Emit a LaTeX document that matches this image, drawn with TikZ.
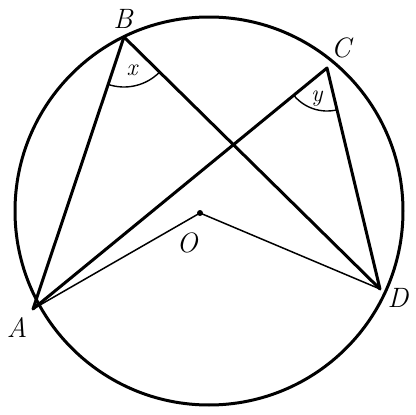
\documentclass[tikz,border=0pt]{standalone}
\usepackage{tikz}
\usetikzlibrary{angles,quotes}
\tikzset{
thick line/.style={line width=3pt,line cap=round,line join=round},
thin line/.style={line width=1.5pt},
punto/.style={font=\fontsize{28}{32}\selectfont\itshape},
segno/.style={line width=1.4pt,font=\fontsize{24}{26}\selectfont\itshape}}

\begin{document}
\begin{tikzpicture}[x=1pt,y=-1pt]
\useasboundingbox (0,0) rectangle (416,415);

\coordinate (Cen) at (209,211);
\coordinate (A) at (33,309);
\coordinate (B) at (124,37);
\coordinate (C) at (327,68);
\coordinate (D) at (380,289);
\coordinate (O) at (200,213);

\draw[thick line] (Cen) circle (194);

\draw[thick line] (A) -- (B) -- (D) -- (C) -- (A);
\draw[thin line] (A) -- (O) -- (D);
\fill (O) circle (3);

\pic[draw,segno,"x",angle radius=50pt,angle eccentricity=0.68] {angle=A--B--D};
\pic[draw,segno,"y",angle radius=43pt,angle eccentricity=0.75] {angle=A--C--D};

\node[punto] (lB) at (123,19) {B};
\node[punto] (lC) at (341,48) {C};
\node[punto] (lA) at (17,328) {A};
\node[punto] (lD) at (398,298) {D};
\node[punto] (lO) at (187,243) {O};

\end{tikzpicture}
\end{document}
